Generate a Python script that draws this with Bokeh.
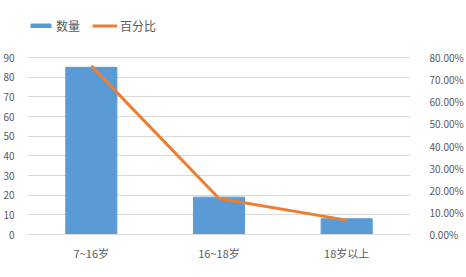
from bokeh.plotting import figure
from bokeh.models import Range1d, LinearAxis, Legend, LegendItem, NumeralTickFormatter, FixedTicker, FactorRange
from bokeh.embed import file_html
from bokeh.resources import INLINE

categories = ["7~16岁", "16~18岁", "18岁以上"]
counts = [85, 19, 8]
percents = [0.762, 0.163, 0.065]
left_ticks = [0, 10, 20, 30, 40, 50, 60, 70, 80, 90]
right_ticks = [0, 0.1, 0.2, 0.3, 0.4, 0.5, 0.6, 0.7, 0.8]

FONT = "Noto Sans CJK SC"
GRAY = "#595959"

# frame spans y=15..234; axis tops (90 / 80%) sit at y=57
FRAME_TOP, FRAME_BOTTOM, AXIS_TOP = 15, 234, 57
stretch = (FRAME_BOTTOM - FRAME_TOP) / (FRAME_BOTTOM - AXIS_TOP)

p = figure(width=466, height=277, x_range=FactorRange(*categories, range_padding=0),
           y_range=Range1d(0, left_ticks[-1] * stretch), output_backend="svg", toolbar_location=None,
           min_border_left=25, min_border_right=49, min_border_top=FRAME_TOP,
           min_border_bottom=277 - FRAME_BOTTOM)
p.outline_line_color = None
p.extra_y_ranges = {"pct": Range1d(0, right_ticks[-1] * stretch)}

bars = p.vbar(x=categories, top=counts, width=0.4, color="#5B9BD5")
line = p.line(x=categories, y=percents, y_range_name="pct", line_color="#ED7D31", line_width=3)

ax = p.yaxis[0]
ax.ticker = FixedTicker(ticks=left_ticks)
ax.axis_line_color = None
ax.major_tick_line_color = None
ax.minor_tick_line_color = None
ax.major_label_text_font = FONT
ax.major_label_text_font_size = "10px"
ax.major_label_text_color = GRAY
ax.major_label_standoff = 7

ra = LinearAxis(y_range_name="pct", ticker=FixedTicker(ticks=right_ticks),
                formatter=NumeralTickFormatter(format="0.00%"))
ra.axis_line_color = None
ra.major_tick_line_color = None
ra.minor_tick_line_color = None
ra.major_label_text_font = FONT
ra.major_label_text_font_size = "10px"
ra.major_label_text_color = GRAY
ra.major_label_standoff = 13
p.add_layout(ra, "right")

xa = p.xaxis[0]
xa.axis_line_color = "#D9D9D9"
xa.major_tick_line_color = None
xa.minor_tick_line_color = None
xa.major_label_text_font = FONT
xa.major_label_text_font_size = "11px"
xa.major_label_text_color = GRAY
xa.major_label_standoff = 4

p.xgrid.grid_line_color = None
p.ygrid.grid_line_color = "#D9D9D9"
p.ygrid.ticker = FixedTicker(ticks=left_ticks)

legend = Legend(items=[LegendItem(label="数量", renderers=[bars]),
                       LegendItem(label="百分比", renderers=[line])],
                orientation="horizontal", location=(1, 200),
                label_text_font=FONT, label_text_font_size="12px", label_text_color=GRAY,
                glyph_width=25, glyph_height=5, label_standoff=3, spacing=12,
                padding=0, margin=0, border_line_color=None, background_fill_alpha=0)
p.add_layout(legend, "center")

open("out.html", "w").write(file_html(p, INLINE))
